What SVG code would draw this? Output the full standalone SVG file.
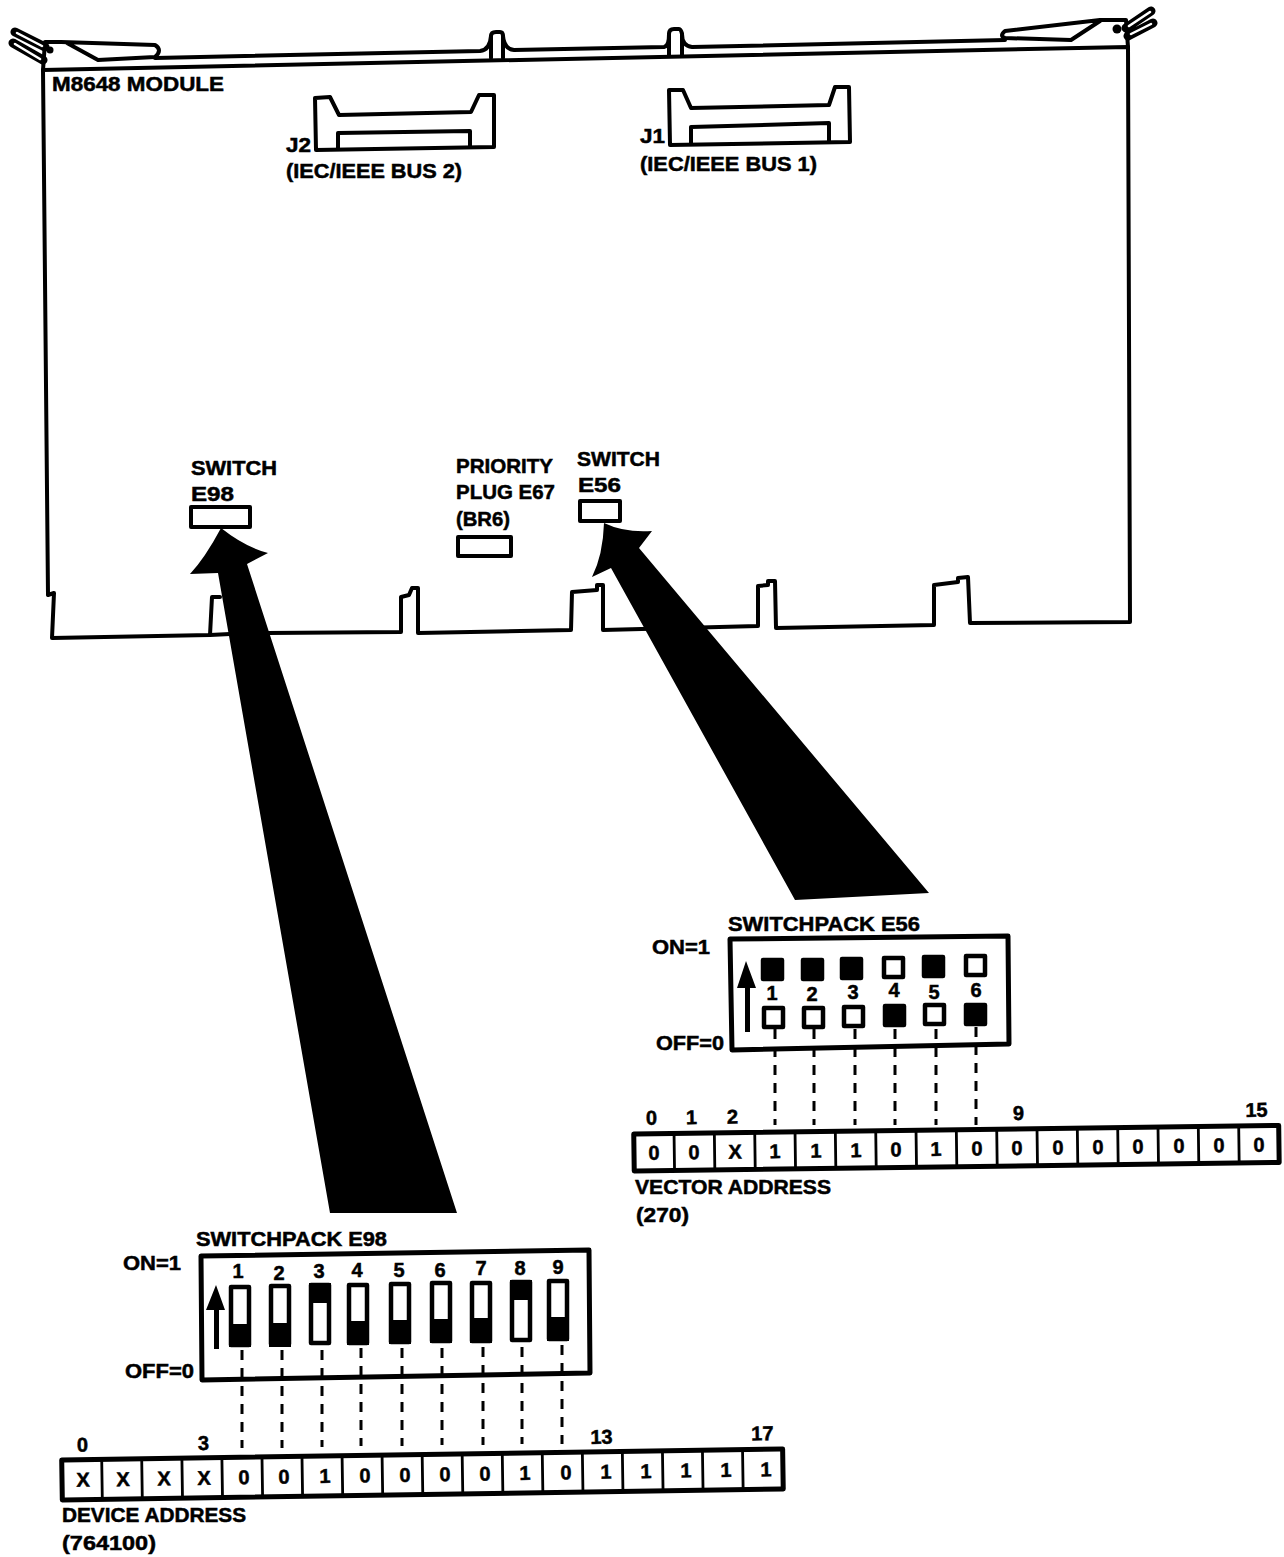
<svg xmlns="http://www.w3.org/2000/svg" width="1284" height="1557" viewBox="0 0 1284 1557">
<style>
text{font-family:"Liberation Sans",Arial,sans-serif;font-weight:bold;font-size:20px;fill:#000;stroke:#000;stroke-width:.5px;lengthAdjust:spacingAndGlyphs}
.c{text-anchor:middle}
.l{fill:none;stroke:#000;stroke-width:4;stroke-linejoin:round;stroke-linecap:round}
.t{fill:none;stroke:#000;stroke-width:9;stroke-linecap:round}
.s{fill:none;stroke:#fff;stroke-width:2.5;stroke-linecap:round}
.b{fill:#fff;stroke:#000;stroke-width:5;stroke-linejoin:round}
.d{fill:none;stroke:#000;stroke-width:3;stroke-dasharray:10 8}
.w{fill:#fff;stroke:#000;stroke-width:4.5;stroke-linejoin:round}
.k{fill:#000;stroke:#000;stroke-width:4.5;stroke-linejoin:round}
.g{stroke:#000;stroke-width:2.8}
</style>
<rect width="1284" height="1557" fill="#fff"/>
<g id="m8648-module">
<path class="l" d="M43 70L1128 47L1130 622L970 623L968 577L958 578L958 582L934 585L934 625L776 628L775 581L768 581L768 585L758 586L758 626L603 630L603 585L597 585L597 590L572 592L571 630L418 633L418 588L412 588L409 595L401 597L401 632L267 633M230 634L210 635L212 597L220 597M210 635L52 638L54 593L48 595L43 70"/>
<path class="l" d="M155 58L480 51Q490 50 491 36Q491 32 496 32L500 32Q503 32 503 36Q504 49 514 50L664 47Q669 46 669 34Q669 29 674 29L679 29Q681 29 682 34Q682 46 692 47L1005 40"/>
<path class="l" d="M491 58V36M503 58V36M669 55V34M682 55V34"/>
<path class="l" d="M43 70L45 42L61 42L155 45Q163 50 155 57L98 60L67 43M1128 47L1126 20L1100 20L1005 31Q999 36 1005 38L1071 40L1100 21"/>
<path class="t" d="M45 47L15 32M43 60L13 43M1126 28L1151 11M1128 36L1153 23"/>
<path class="s" d="M42 46L17 33M40 59L15 44M1129 26L1150 12M1131 34L1151 24"/>
<circle cx="50" cy="50" r="3.5"/><circle cx="1117" cy="29" r="4.5"/>
<text x="52" y="91" textLength="172" lengthAdjust="spacingAndGlyphs">M8648 MODULE</text>
</g>
<g id="j2">
<path class="l" d="M315 98L330 97L339 115L471 112L479 95L494 95L494 147L316 150Z"/>
<path class="l" d="M338 149L338 133L470 131L470 146"/>
<text x="286" y="152" textLength="25" lengthAdjust="spacingAndGlyphs">J2</text>
<text x="286" y="178" textLength="176" lengthAdjust="spacingAndGlyphs">(IEC/IEEE BUS 2)</text>
</g>
<g id="j1">
<path class="l" d="M669 90L683 90L691 108L829 105L835 87L849 87L850 142L670 145Z"/>
<path class="l" d="M691 144L691 127L829 123L829 141"/>
<text x="640" y="143" textLength="25" lengthAdjust="spacingAndGlyphs">J1</text>
<text x="640" y="171" textLength="177" lengthAdjust="spacingAndGlyphs">(IEC/IEEE BUS 1)</text>
</g>
<g id="switch-e98">
<rect class="l" x="191" y="507" width="59" height="20"/>
<text x="191" y="475" textLength="86" lengthAdjust="spacingAndGlyphs">SWITCH</text><text x="191" y="501" textLength="43" lengthAdjust="spacingAndGlyphs">E98</text>
</g>
<g id="priority-plug-e67">
<rect class="l" x="458" y="537" width="53" height="19"/>
<text x="456" y="473" textLength="97" lengthAdjust="spacingAndGlyphs">PRIORITY</text><text x="456" y="499" textLength="99" lengthAdjust="spacingAndGlyphs">PLUG E67</text><text x="456" y="526" textLength="54" lengthAdjust="spacingAndGlyphs">(BR6)</text>
</g>
<g id="switch-e56">
<rect class="l" x="580" y="501" width="40" height="20"/>
<text x="577" y="466" textLength="83" lengthAdjust="spacingAndGlyphs">SWITCH</text><text x="578" y="492" textLength="43" lengthAdjust="spacingAndGlyphs">E56</text>
</g>
<g id="connectors">
<path d="M221 528Q245 547 268 553L247 564L457 1213L330 1213L218 573L190 574Q205 558 221 528Z"/>
<path d="M604 523Q625 533 652 531L639 548L929 893L795 900L611 568L592 577Q603 555 604 523Z"/>
</g>
<g id="switchpack-e56">
<text x="728" y="931" textLength="192" lengthAdjust="spacingAndGlyphs">SWITCHPACK E56</text>
<text x="652" y="954" textLength="58" lengthAdjust="spacingAndGlyphs">ON=1</text><text x="656" y="1050" textLength="68" lengthAdjust="spacingAndGlyphs">OFF=0</text>
<path class="b" d="M730 939L1008 936L1009 1044L732 1050Z"/>
<path d="M746 961L756 988L750 988L750 1032L745 1032L745 988L737 988Z"/>
<rect class="k" x="763" y="960" width="19" height="19"/><rect class="k" x="803" y="960" width="19" height="19"/><rect class="k" x="842" y="959" width="19" height="19"/><rect class="w" x="884" y="958" width="19" height="19"/><rect class="k" x="924" y="957" width="19" height="19"/><rect class="w" x="966" y="956" width="19" height="19"/>
<text class="c" x="772" y="1000">1</text><text class="c" x="812" y="1001">2</text><text class="c" x="853" y="999">3</text><text class="c" x="894" y="997">4</text><text class="c" x="934" y="999">5</text><text class="c" x="976" y="997">6</text>
<rect class="w" x="764" y="1008" width="19" height="19"/><rect class="w" x="804" y="1008" width="19" height="19"/><rect class="w" x="844" y="1007" width="19" height="19"/><rect class="k" x="885" y="1006" width="19" height="19"/><rect class="w" x="925" y="1005" width="19" height="19"/><rect class="k" x="966" y="1005" width="19" height="19"/>
<path class="d" d="M775 1029V1125M814 1029V1125M855 1029V1125M895 1029V1125M936 1029V1125M976 1027V1125"/>
</g>
<g id="vector-address" transform="rotate(-0.76 634 1153)">
<rect class="b" x="634" y="1134" width="645" height="37"/>
<path class="g" d="M674.300 1134v37M714.600 1134v37M755 1134v37M795.300 1134v37M835.600 1134v37M876 1134v37M916.300 1134v37M956.600 1134v37M997 1134v37M1037.300 1134v37M1077.600 1134v37M1118 1134v37M1158.300 1134v37M1198.600 1134v37M1239 1134v37"/>
<text class="c" x="654" y="1160">0</text><text class="c" x="694" y="1160">0</text><text class="c" x="735" y="1160">X</text><text class="c" x="775" y="1160">1</text><text class="c" x="816" y="1160">1</text><text class="c" x="856" y="1160">1</text><text class="c" x="896" y="1160">0</text><text class="c" x="936" y="1160">1</text><text class="c" x="977" y="1160">0</text><text class="c" x="1017" y="1160">0</text><text class="c" x="1058" y="1160">0</text><text class="c" x="1098" y="1160">0</text><text class="c" x="1138" y="1160">0</text><text class="c" x="1179" y="1160">0</text><text class="c" x="1219" y="1160">0</text><text class="c" x="1259" y="1160">0</text>
<text class="c" x="652" y="1125">0</text><text class="c" x="692" y="1125">1</text><text class="c" x="733" y="1125">2</text><text class="c" x="1019" y="1125">9</text><text class="c" x="1257" y="1125">15</text>
</g>
<g id="vector-address-label">
<text x="635" y="1194" textLength="196" lengthAdjust="spacingAndGlyphs">VECTOR ADDRESS</text><text x="636" y="1222" textLength="53" lengthAdjust="spacingAndGlyphs">(270)</text>
</g>
<g id="switchpack-e98">
<text x="196" y="1246" textLength="191" lengthAdjust="spacingAndGlyphs">SWITCHPACK E98</text>
<text x="123" y="1270" textLength="58" lengthAdjust="spacingAndGlyphs">ON=1</text><text x="125" y="1378" textLength="69" lengthAdjust="spacingAndGlyphs">OFF=0</text>
<path class="b" d="M201 1256L589 1250L590 1373L202 1380Z"/>
<path d="M216 1285L225 1310L219 1310L219 1349L214 1349L214 1310L206 1310Z"/>
<g>
<rect class="w" x="231" y="1287" width="18" height="58"/><rect x="229" y="1324" width="22" height="23"/>
<rect class="w" x="271" y="1286" width="18" height="58"/><rect x="269" y="1323" width="22" height="24"/>
<rect class="w" x="311" y="1285" width="18" height="58"/><rect x="309" y="1283" width="22" height="20"/>
<rect class="w" x="349" y="1285" width="18" height="58"/><rect x="347" y="1321" width="22" height="24"/>
<rect class="w" x="391" y="1284" width="18" height="58"/><rect x="389" y="1320" width="22" height="24"/>
<rect class="w" x="432" y="1283" width="18" height="58"/><rect x="430" y="1319" width="22" height="24"/>
<rect class="w" x="472" y="1283" width="18" height="58"/><rect x="470" y="1318" width="22" height="25"/>
<rect class="w" x="512" y="1282" width="18" height="58"/><rect x="510" y="1280" width="22" height="20"/>
<rect class="w" x="549" y="1281" width="18" height="58"/><rect x="547" y="1317" width="22" height="24"/>
</g>
<text class="c" x="238" y="1278">1</text><text class="c" x="279" y="1280">2</text><text class="c" x="319" y="1278">3</text><text class="c" x="357" y="1277">4</text><text class="c" x="399" y="1277">5</text><text class="c" x="440" y="1277">6</text><text class="c" x="481" y="1275">7</text><text class="c" x="520" y="1275">8</text><text class="c" x="558" y="1274">9</text>
<path class="d" d="M242 1350V1448M282 1350V1448M322 1350V1447M361 1348V1446M402 1348V1446M442 1348V1445M483 1347V1445M522 1347V1444M562 1345V1444"/>
</g>
<g id="device-address" transform="rotate(-0.87 62 1479)">
<rect class="b" x="62" y="1460" width="721" height="40"/>
<path class="g" d="M102 1460v40M142 1460v40M182.200 1460v40M222.200 1460v40M262.300 1460v40M302.300 1460v40M342.400 1460v40M382.400 1460v40M422.500 1460v40M462.500 1460v40M502.600 1460v40M542.600 1460v40M582.700 1460v40M622.700 1460v40M662.800 1460v40M702.800 1460v40M742.900 1460v40"/>
<text class="c" x="83" y="1487">X</text><text class="c" x="123" y="1487">X</text><text class="c" x="164" y="1487">X</text><text class="c" x="204" y="1487">X</text><text class="c" x="244" y="1487">0</text><text class="c" x="284" y="1487">0</text><text class="c" x="325" y="1487">1</text><text class="c" x="365" y="1487">0</text><text class="c" x="405" y="1487">0</text><text class="c" x="445" y="1487">0</text><text class="c" x="485" y="1487">0</text><text class="c" x="525" y="1487">1</text><text class="c" x="566" y="1487">0</text><text class="c" x="606" y="1487">1</text><text class="c" x="646" y="1487">1</text><text class="c" x="686" y="1487">1</text><text class="c" x="726" y="1487">1</text><text class="c" x="766" y="1487">1</text>
<text class="c" x="83" y="1452">0</text><text class="c" x="204" y="1452">3</text><text class="c" x="602" y="1452">13</text><text class="c" x="763" y="1451">17</text>
</g>
<g id="device-address-label">
<text x="62" y="1522" textLength="184" lengthAdjust="spacingAndGlyphs">DEVICE ADDRESS</text><text x="62" y="1550" textLength="94" lengthAdjust="spacingAndGlyphs">(764100)</text>
</g>
</svg>
